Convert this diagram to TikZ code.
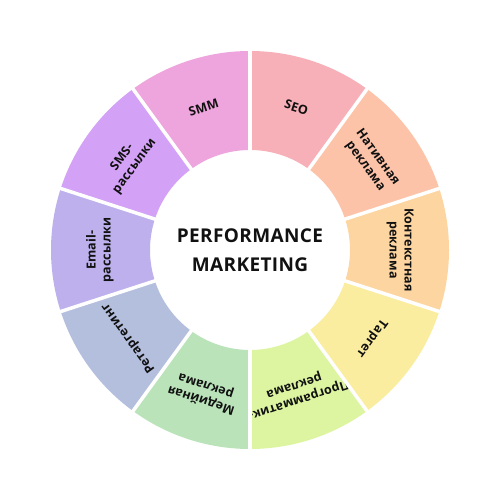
\documentclass[tikz,border=0pt]{standalone}
\usepackage{fontspec}
\setmainfont{Open Sans}
\definecolor{cA}{HTML}{F8B0B8}
\definecolor{cB}{HTML}{FDC3A9}
\definecolor{cC}{HTML}{FDD5A0}
\definecolor{cD}{HTML}{FAEDA0}
\definecolor{cE}{HTML}{DDF5A0}
\definecolor{cF}{HTML}{BAE3BA}
\definecolor{cG}{HTML}{B4BEDD}
\definecolor{cH}{HTML}{BDB0EC}
\definecolor{cI}{HTML}{D3A1F6}
\definecolor{cJ}{HTML}{EEA4DD}
\definecolor{txt}{HTML}{111111}
\tikzset{
  seglabel/.style={text=txt, align=center, font=\fontsize{12.5}{15}\selectfont\bfseries\addfontfeature{LetterSpace=1}, inner sep=0pt},
  centerlabel/.style={text=txt, align=center, font=\fontsize{19}{29}\selectfont\bfseries\addfontfeature{LetterSpace=2}},
  sep/.style={white, line width=3.5pt}
}
\begin{document}
\begin{tikzpicture}[x=1pt,y=1pt]
\useasboundingbox (0,0) rectangle (500,500);
\fill[white] (0,0) rectangle (500,500);
\begin{scope}[shift={(250,250)}]
\foreach \s/\c/\t [count=\i] in {
  90/cA/SEO,
  54/cB/{Нативная\\реклама},
  18/cC/{Контекстная\\реклама},
  -18/cD/Таргет,
  -54/cE/{Программатик-\\реклама},
  -90/cF/{Медийная\\реклама},
  -126/cG/Ретаргетинг,
  -162/cH/{Email-\\рассылки},
  -198/cI/{SMS-\\рассылки},
  -234/cJ/SMM}{
  \pgfmathsetmacro{\e}{\s-36}
  \pgfmathsetmacro{\m}{\s-18}
  \pgfmathsetmacro{\r}{\m-90}
  \fill[\c] (\s:100) -- (\s:199) arc[start angle=\s, end angle=\e, radius=199] -- (\e:100) arc[start angle=\e, end angle=\s, radius=100] -- cycle;
  \node[seglabel, rotate=\r] (seg\i) at (\m:150) {\t};
}
\foreach \s in {90,54,18,-18,-54,-90,-126,-162,-198,-234}{
  \draw[sep] (\s:97) -- (\s:202);
}
\node[centerlabel] (center) at (0,0) {PERFORMANCE\\MARKETING};
\end{scope}
\end{tikzpicture}
\end{document}
